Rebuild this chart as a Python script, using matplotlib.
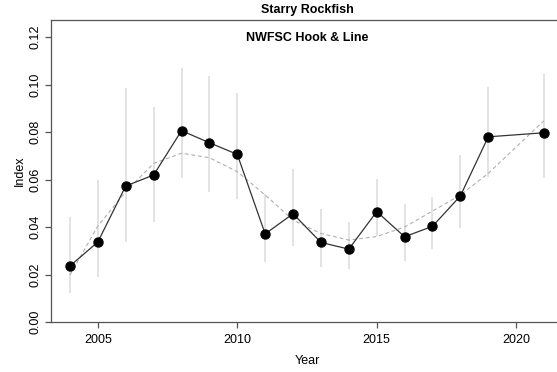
import matplotlib
matplotlib.use("Agg")
import matplotlib.pyplot as plt

plt.rcParams['font.family'] = ['Liberation Sans', 'DejaVu Sans']

years = [2004, 2005, 2006, 2007, 2008, 2009, 2010, 2011, 2012,
         2013, 2014, 2015, 2016, 2017, 2018, 2019, 2021]
index = [0.0236, 0.0337, 0.0573, 0.0619, 0.0806, 0.0755, 0.0706, 0.0371, 0.0456,
         0.0335, 0.0307, 0.0465, 0.0359, 0.0403, 0.0531, 0.0780, 0.0797]
upper = [0.0442, 0.0598, 0.0984, 0.0904, 0.1068, 0.1037, 0.0966, 0.0538, 0.0643,
         0.0476, 0.0420, 0.0602, 0.0495, 0.0526, 0.0703, 0.0991, 0.1044]
lower = [0.0123, 0.0188, 0.0336, 0.0422, 0.0605, 0.0546, 0.0517, 0.0251, 0.0321,
         0.0233, 0.0222, 0.0362, 0.0258, 0.0307, 0.0397, 0.0609, 0.0608]
smooth = [0.0198, 0.0404, 0.0549, 0.0668, 0.0711, 0.0692, 0.0633, 0.0535, 0.0429,
          0.0373, 0.0345, 0.0360, 0.0400, 0.0467, 0.0535, 0.0626, 0.0848]

W, H = 557, 372
fig = plt.figure(figsize=(W / 100, H / 100), dpi=100)
ax = fig.add_axes([51 / W, 1 - 322 / H, (563 - 51) / W, (322 - 20) / H])

ax.vlines(years, lower, upper, color='#dedede', lw=1.2, zorder=1)
ax.plot(years, smooth, color='#b0b0b0', lw=0.8, ls=(0, (3.5, 2.5)), zorder=2)
ax.plot(years, index, color='#333333', lw=0.9, marker='o', ms=6.5,
        mfc='black', mec='black', zorder=3)

ax.set_xlim(2003.32, 2021.68)
ax.set_ylim(0, 0.1272)
ax.set_xticks([2005, 2010, 2015, 2020])
ax.set_yticks([0.00, 0.02, 0.04, 0.06, 0.08, 0.10, 0.12])
ax.set_yticklabels(['0.00', '0.02', '0.04', '0.06', '0.08', '0.10', '0.12'],
                   rotation=90, va='center')
for s in ax.spines.values():
    s.set_color('#555555')
    s.set_linewidth(0.9)
ax.tick_params(direction='out', length=4.3, width=0.9, color='#555555',
               labelsize=9, pad=4)
ax.tick_params(axis='y', pad=2.5)

ax.set_xlabel('Year', fontsize=9, labelpad=7)
ax.set_ylabel('Index', fontsize=9, labelpad=3)
ax.set_title('Starry Rockfish', fontsize=9, fontweight='bold', pad=5)
ax.text(0.5, 0.94, 'NWFSC Hook & Line', transform=ax.transAxes, ha='center',
        va='center', fontsize=9, fontweight='bold')

fig.savefig('out.png', dpi=100)
